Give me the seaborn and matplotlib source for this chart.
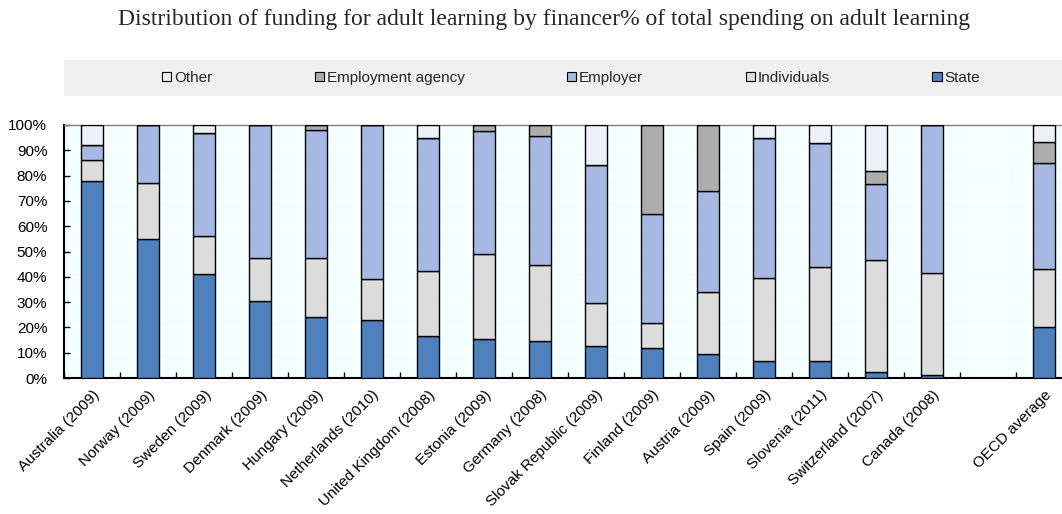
import matplotlib
matplotlib.use("Agg")
import matplotlib.pyplot as plt
from matplotlib.patches import Rectangle, Patch
from matplotlib.ticker import MultipleLocator, PercentFormatter
import numpy as np
import pandas as pd
import seaborn as sns

# Financers in stacking order (bottom to top)
financers = ["State", "Individuals", "Employer", "Employment agency", "Other"]
colors = {
    "State": "#4F81BD",
    "Individuals": "#DCDCDC",
    "Employer": "#A7B9E3",
    "Employment agency": "#ADADAD",
    "Other": "#EDF0F7",
}

countries = [
    "Australia (2009)", "Norway (2009)", "Sweden (2009)", "Denmark (2009)",
    "Hungary (2009)", "Netherlands (2010)", "United Kingdom (2008)",
    "Estonia (2009)", "Germany (2008)", "Slovak Republic (2009)",
    "Finland (2009)", "Austria (2009)", "Spain (2009)", "Slovenia (2011)",
    "Switzerland (2007)", "Canada (2008)", "OECD average",
]
# blank slot separating the countries from the OECD average
category_order = countries[:-1] + [" "] + countries[-1:]

state = [78, 55, 41, 30.5, 24, 23, 16.5, 15.5, 14.5, 12.5, 11.7, 9.6, 6.6, 6.6, 2.5, 1.3, 20.2]
individuals = [8, 22, 15.3, 17, 23.5, 16, 25.7, 33.6, 30.2, 17.3, 9.9, 24.2, 33.1, 37.2, 44.1, 40.3, 23.0]
employer = [6, 23, 40.7, 52.5, 50.5, 61, 52.6, 48.7, 51.1, 54.2, 43.2, 40.1, 55.0, 49.0, 30.1, 58.4, 41.6]
employment_agency = [0, 0, 0, 0, 2, 0, 0, 2.2, 4.2, 0, 35.2, 26.1, 0, 0, 5.1, 0, 8.6]
other = [8, 0, 3, 0, 0, 0, 5.2, 0, 0, 16, 0, 0, 5.3, 7.2, 18.2, 0, 6.6]

df = pd.DataFrame({
    "country": countries,
    "State": state,
    "Individuals": individuals,
    "Employer": employer,
    "Employment agency": employment_agency,
    "Other": other,
})

sns.set_theme(style="white")
plt.rcParams["font.family"] = ["Liberation Sans", "DejaVu Sans"]

fig = plt.figure(figsize=(10.62, 5.14), dpi=100)
W, H = 1062, 514
ax = fig.add_axes([64 / W, 1 - 378 / H, 1008 / W, 253 / H])
ax.set_facecolor("#F4FFFF")

bottom = np.zeros(len(df))
for name in financers:
    sns.barplot(
        data=df, x="country", y=name, order=category_order,
        bottom=bottom, color=colors[name], saturation=1,
        width=0.39, errorbar=None, edgecolor="black", linewidth=1.0,
        ax=ax, zorder=3,
    )
    bottom = bottom + df[name].to_numpy()

ax.set_xlim(-0.5, 17.5)
ax.set_ylim(0, 100)
ax.set_xlabel("")
ax.set_ylabel("")

# y axis: percentages with inward ticks
ax.yaxis.set_major_locator(MultipleLocator(10))
ax.yaxis.set_major_formatter(PercentFormatter(decimals=0))
ax.tick_params(axis="y", direction="in", length=4, width=1, color="black",
               labelsize=11, pad=12, labelcolor="black", left=True)

# x axis: labels at bar centres, tick marks between slots
ax.set_xticks(range(len(category_order)))
ax.set_xticklabels(category_order, rotation=45, ha="right",
                   rotation_mode="anchor", fontsize=11)
ax.tick_params(axis="x", which="major", length=0, pad=7, labelcolor="black")
ax.set_xticks(np.arange(-0.5, 18, 1), minor=True)
ax.tick_params(axis="x", which="minor", direction="in", length=4, width=1,
               color="black", bottom=True)

ax.grid(True, axis="y", which="major", color="white", linewidth=1.2, zorder=0)
ax.grid(True, axis="x", which="minor", color="white", linewidth=1.2, zorder=0)
ax.grid(False, axis="x", which="major")
ax.set_axisbelow(True)

for side in ("left", "bottom"):
    ax.spines[side].set_color("black")
    ax.spines[side].set_linewidth(1.5)
ax.spines["top"].set_color("#808080")
ax.spines["top"].set_linewidth(1.0)
ax.spines["right"].set_visible(False)

# legend band
fig.patches.append(Rectangle((64 / W, 1 - 96 / H), 1 - 64 / W, 36 / H,
                             transform=fig.transFigure, facecolor="#F0F0F0",
                             edgecolor="none", zorder=0))
handles = [Patch(facecolor=colors[n], edgecolor="black", linewidth=0.8, label=n)
           for n in financers[::-1]]
fig.legend(handles=handles, loc="center", bbox_to_anchor=(571 / W, 1 - 78 / H),
           ncol=5, frameon=False, fontsize=11, handlelength=0.6,
           handleheight=0.6, handletextpad=0.2, columnspacing=6.7)

fig.text(544 / W, 1 - 20 / H,
         "Distribution of funding for adult learning by financer"
         "% of total spending on adult learning",
         ha="center", va="center", fontsize=17, family="Liberation Serif")

fig.savefig("out.png", dpi=100)
